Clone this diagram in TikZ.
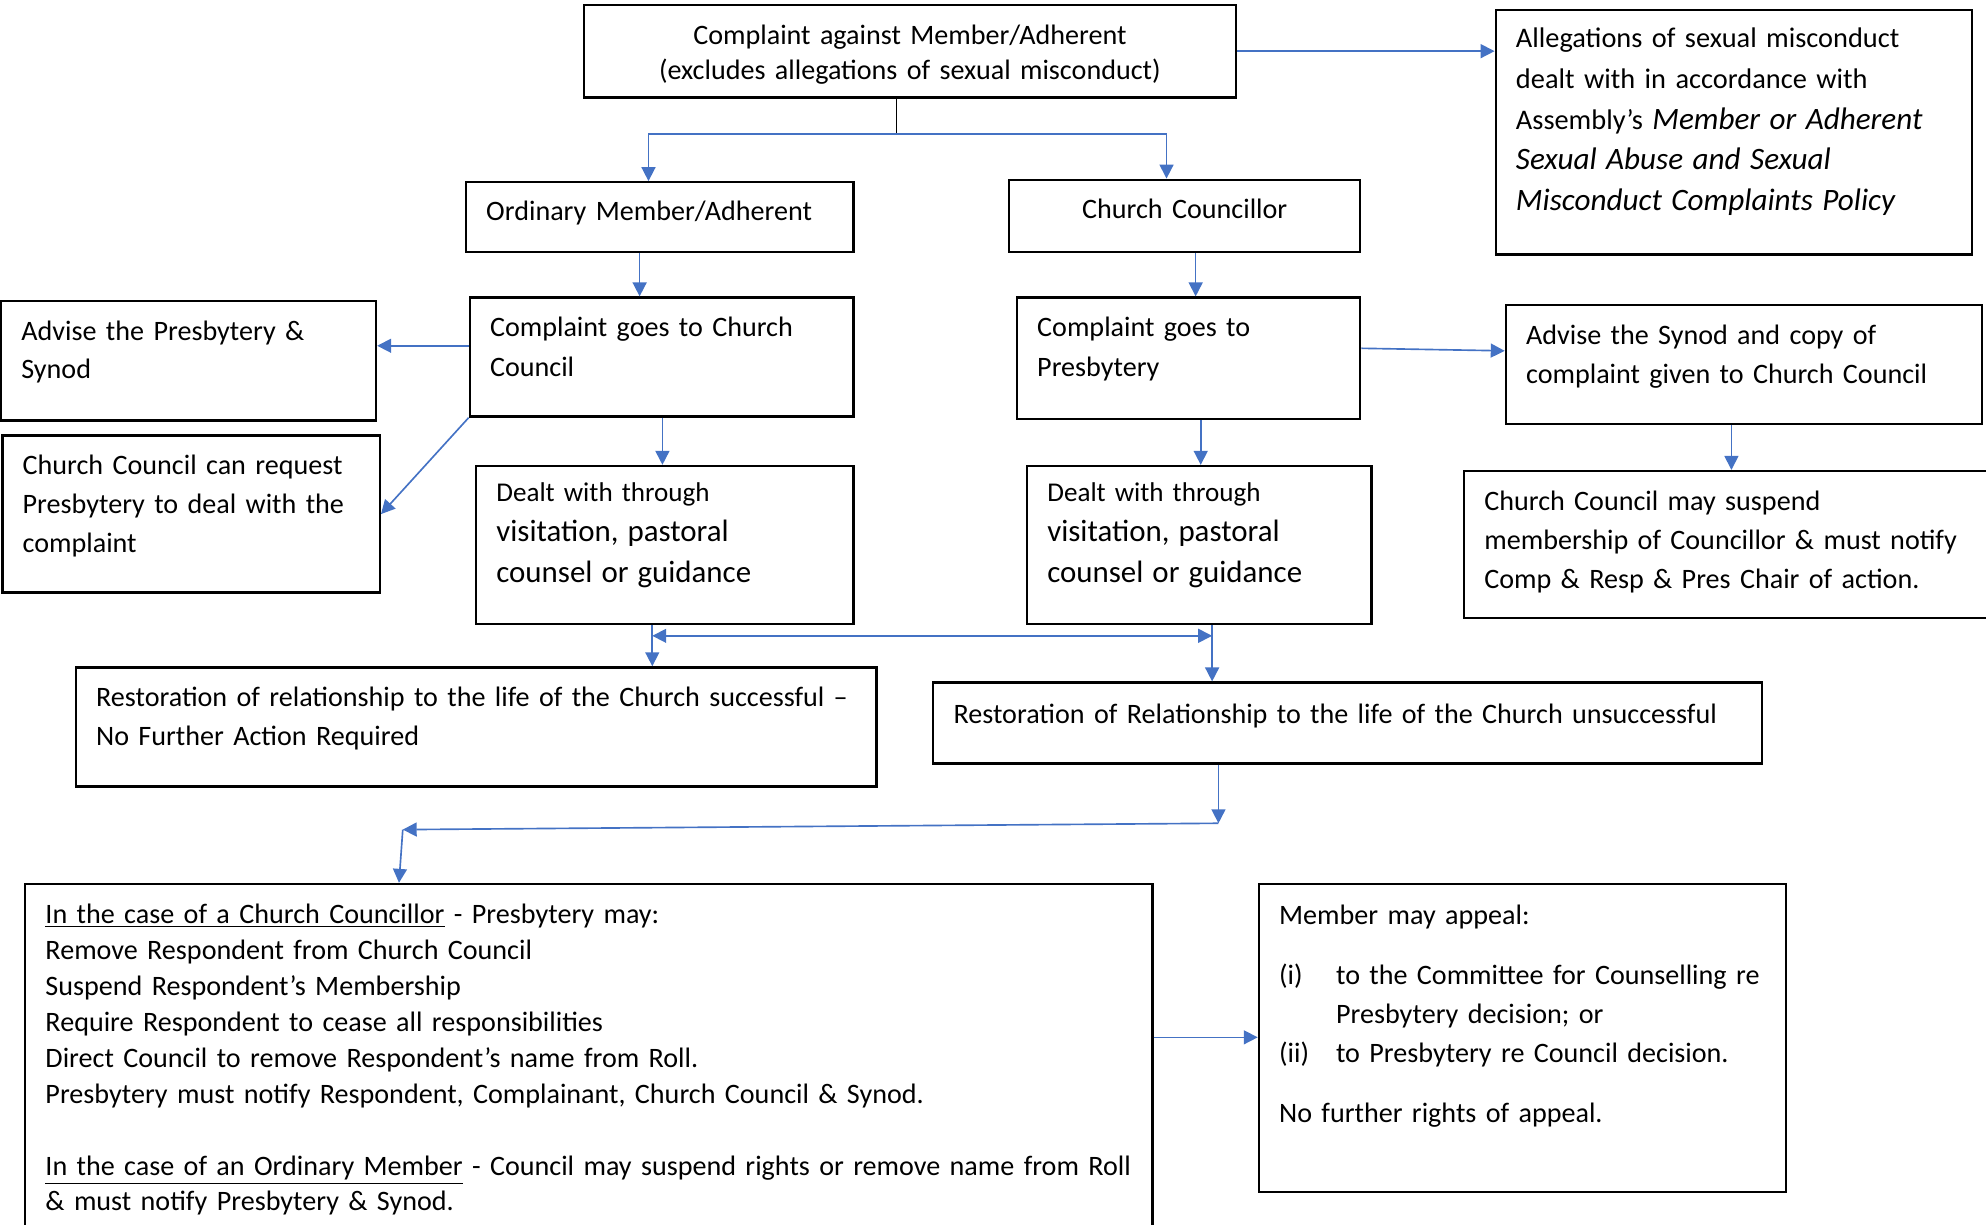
\documentclass[tikz,border=0pt]{standalone}
\usepackage{fontspec}
\setmainfont{Carlito}
\usetikzlibrary{arrows.meta}
\definecolor{linkblue}{HTML}{4472C4}
\tikzset{
  box/.style={draw,line width=0.9pt,anchor=north west,inner xsep=8pt,inner ysep=0pt,align=left,font=\fontsize{11.1}{15.5}\selectfont},
  link/.style={draw=linkblue,line width=0.65pt,-{Triangle[length=5.5pt,width=5.5pt]}}
}
\newcommand{\policy}[1]{{\fontsize{12.3}{16}\selectfont\textit{#1}}}
\begin{document}
\begin{tikzpicture}[x=0.5pt,y=-0.5pt]
\clip (0,0) rectangle (1568,967);
% top row
\node[box,align=center,text width=241.5pt,text height=15.5pt,text depth=21pt,font=\fontsize{11.1}{14}\selectfont] (complaint) at (460,3) {Complaint against Member/Adherent\\(excludes allegations of sexual misconduct)};
\node[box,text width=172pt,text height=15pt,text depth=81.5pt,font=\fontsize{11.2}{16}\selectfont] (sexual) at (1180,7) {Allegations of sexual misconduct\\dealt with in accordance with\\Assembly’s \policy{Member or Adherent}\\\policy{Sexual Abuse and Sexual}\\\policy{Misconduct Complaints Policy}};
% member / councillor
\node[box,text width=137pt,text height=15pt,text depth=12.5pt] (ordinary) at (367,143) {Ordinary Member/Adherent};
\node[box,align=center,text width=122.5pt,text height=15.5pt,text depth=13pt] (councillor) at (796,141) {Church Councillor};
% left column
\node[box,text width=132pt,text height=15.5pt,text depth=31.5pt,font=\fontsize{11.1}{15}\selectfont] (advpres) at (0,237) {Advise the Presbytery \&\\Synod};
\node[box,text width=135.5pt,text height=15.5pt,text depth=31.5pt] (tocouncil) at (370,234) {Complaint goes to Church\\Council};
\node[box,text width=133pt,text height=15.5pt,text depth=46.5pt,font=\fontsize{11.1}{15.25}\selectfont] (request) at (1,343) {Church Council can request\\Presbytery to deal with the\\complaint};
\node[box,text width=133pt,text height=14pt,text depth=48.5pt,font=\fontsize{10.7}{16}\selectfont] (dealtL) at (375,367) {Dealt with through\\{\fontsize{12.2}{16}\selectfont visitation, pastoral\\counsel or guidance}};
% right column
\node[box,text width=119.5pt,text height=15.5pt,text depth=32.5pt] (topres) at (802,234) {Complaint goes to\\Presbytery};
\node[box,text width=172pt,text height=15.5pt,text depth=31.5pt] (advsynod) at (1188,240) {Advise the Synod and copy of\\\mbox{complaint given to Church Council}};
\node[box,text width=120pt,text height=14pt,text depth=48.5pt,font=\fontsize{10.7}{16}\selectfont] (dealtR) at (810,367) {Dealt with through\\{\fontsize{12.2}{16}\selectfont visitation, pastoral\\counsel or guidance}};
\node[box,text width=194pt,text height=15.5pt,text depth=42.5pt] (suspend) at (1155,371) {Church Council may suspend\\\mbox{membership of Councillor \& must notify}\\Comp \& Resp \& Pres Chair of action.};
% outcomes
\node[box,text width=300pt,text height=15.5pt,text depth=31.5pt] (success) at (59,526) {\mbox{Restoration of relationship to the life of the Church successful –}\\No Further Action Required};
\node[box,text width=311pt,text height=16pt,text depth=16pt] (fail) at (736,538) {\mbox{Restoration of Relationship to the life of the Church unsuccessful}};
% bottom row
\node[box,text width=429pt,text height=15.5pt,text depth=128.5pt,font=\fontsize{11.1}{14.2}\selectfont] (penalty) at (19,697) {\underline{In the case of a Church Councillor} - Presbytery may:\\Remove Respondent from Church Council\\Suspend Respondent’s Membership\\Require Respondent to cease all responsibilities\\Direct Council to remove Respondent’s name from Roll.\\Presbytery must notify Respondent, Complainant, Church Council \& Synod.\\[14.2pt]\mbox{\underline{In the case of an Ordinary Member} - Council may suspend rights or remove name from Roll}\\\& must notify Presbytery \& Synod.};
\node[box,text width=192pt,text height=16pt,text depth=105.5pt] (appeal) at (993,697) {Member may appeal:\\[8pt]\makebox[22.5pt][l]{(i)}\mbox{to the Committee for Counselling re}\\\hspace*{22.5pt}Presbytery decision; or\\\makebox[22.5pt][l]{(ii)}to Presbytery re Council decision.\\[8pt]No further rights of appeal.};
% split under the first box
\coordinate (split) at (708,106);
\coordinate (splitL) at (512,106);
\coordinate (splitR) at (921,106);
\draw[line width=0.5pt] (complaint.south -| split) -- (split);
\draw[draw=linkblue,line width=0.65pt] (splitL) -- (splitR);
\draw[link] (splitL) -- (ordinary.north -| splitL);
\draw[link] (splitR) -- (councillor.north -| splitR);
\draw[link] (complaint.east) -- (complaint.east -| sexual.west);
% down the two columns
\draw[link] (ordinary.south -| 505,0) -- (tocouncil.north -| 505,0);
\draw[link] (councillor.south -| 944,0) -- (topres.north -| 944,0);
\draw[link] (tocouncil.west |- 0,273) -- (advpres.east |- 0,273);
\draw[link] (tocouncil.south west) -- (request.east);
\draw[link] (tocouncil.south -| 523,0) -- (dealtL.north -| 523,0);
\draw[link] (topres.south -| 948,0) -- (dealtR.north -| 948,0);
\draw[link] (topres.east |- 0,275) -- (advsynod.west |- 0,277);
\draw[link] (advsynod.south -| 1367,0) -- (suspend.north -| 1367,0);
% outcomes
\coordinate (midL) at (515,502);
\coordinate (midR) at (957,502);
\draw[link] (dealtL.south -| midL) -- (success.north -| midL);
\draw[link] (dealtR.south -| midR) -- (fail.north -| midR);
\draw[link,{Triangle[length=5.5pt,width=5.5pt]}-{Triangle[length=5.5pt,width=5.5pt]}] (midL) -- (midR);
% back to the left
\coordinate (turn) at (962,650);
\coordinate (back) at (318,655);
\draw[link] (fail.south -| turn) -- (turn);
\draw[link] (turn) -- (back);
\draw[link] (back) -- (penalty.north -| 315,0);
\draw[link] (penalty.east |- 0,819) -- (appeal.west |- 0,819);
\end{tikzpicture}
\end{document}
